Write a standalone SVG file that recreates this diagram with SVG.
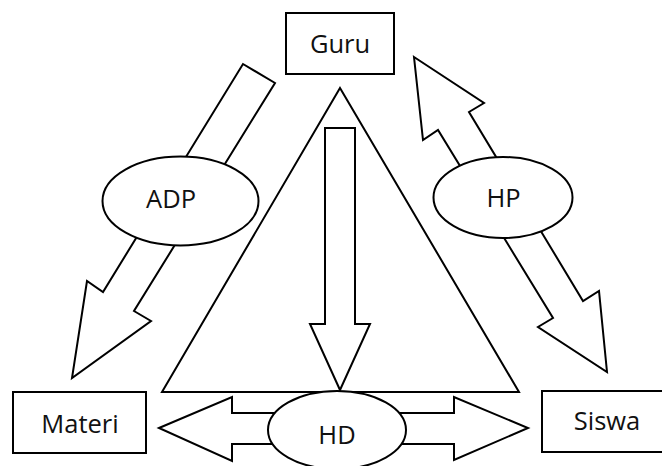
<svg xmlns="http://www.w3.org/2000/svg" width="662" height="466" viewBox="0 0 662 466">
<style>
.s{fill:#fff;stroke:#000;stroke-width:2;stroke-linejoin:miter}
.t{font-family:"Open Sans","Liberation Sans",sans-serif;font-size:25.5px;fill:#111;text-anchor:middle}
</style>
<rect width="662" height="466" fill="#fff"/>
<g id="triangle">
<polygon class="s" points="340,88 519,392 162,392"/>
</g>
<g id="connectors">
<polygon id="arrow-hd-down" class="s" points="325,128 355,128 355,324 370,324 340,390 310,324 325,324"/>
<polygon id="arrow-adp" class="s" points="243,64 275,83 134,311 151,321 72,378 87,281 103,292"/>
<polygon id="arrow-hp" class="s" points="414,57 484,103 469,112 583,301 599,291 607,372 538,327 553,318 438,130 423,140"/>
<polygon id="arrow-hd" class="s" points="159,428 232,397 232,413 454,413 454,397 528,428 454,460 454,444 232,444 232,461"/>
</g>
<g id="node-guru">
<rect class="s" x="286" y="13" width="108" height="61"/>
<text class="t" x="340" y="53">Guru</text>
</g>
<g id="node-materi">
<rect class="s" x="13" y="392" width="133" height="61"/>
<text class="t" x="80" y="433">Materi</text>
</g>
<g id="node-siswa">
<rect class="s" x="542" y="391" width="130" height="61"/>
<text class="t" x="607" y="430">Siswa</text>
</g>
<g id="node-adp">
<ellipse class="s" cx="180.5" cy="201" rx="78" ry="44.5"/>
<text class="t" x="171" y="208">ADP</text>
</g>
<g id="node-hp">
<ellipse class="s" cx="503" cy="197.5" rx="69.5" ry="40.5"/>
<text class="t" x="503.5" y="207">HP</text>
</g>
<g id="node-hd">
<ellipse class="s" cx="337" cy="430" rx="69" ry="39"/>
<text class="t" x="337" y="444">HD</text>
</g>
</svg>
